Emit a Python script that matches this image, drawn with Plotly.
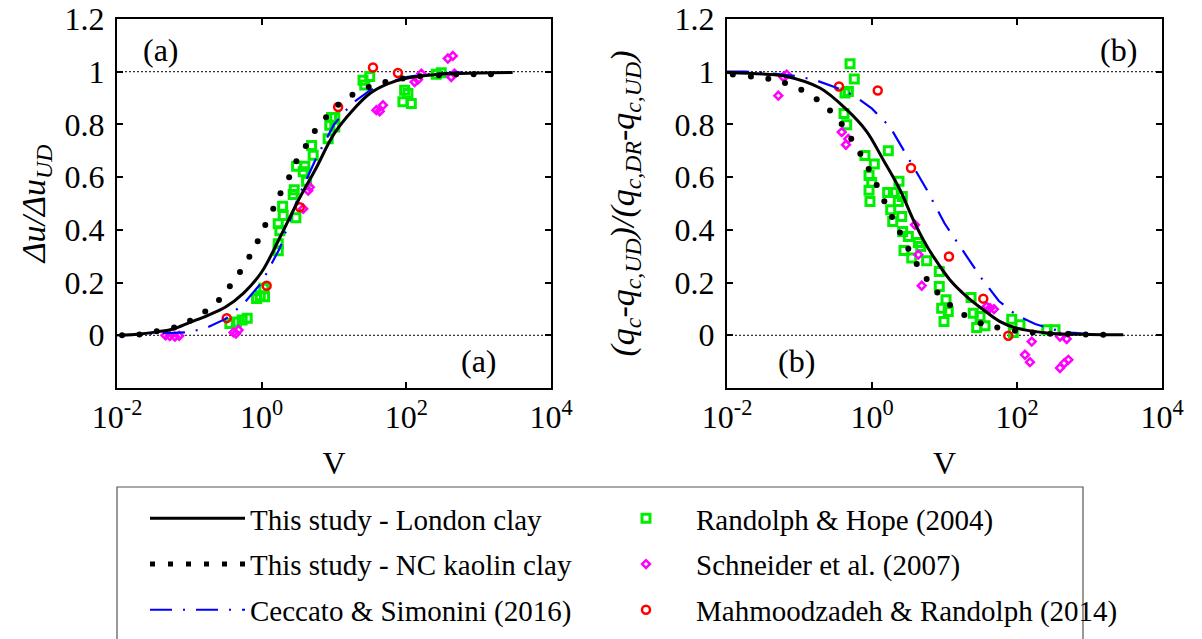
import numpy as np
import plotly.graph_objects as go

# ---------------------------------------------------------------------------
# Values.  x values are stored as log10(V)
# (read on the logarithmic V axis), y values as plotted.
# ---------------------------------------------------------------------------

# ---------- panel (a): Δu/Δu_UD -------------------------------------------
a_london_logV = [-1.95, -1.68, -1.45, -1.22, -1.0, -0.75, -0.5, -0.25, 0.0, 0.25,
                 0.5, 0.75, 1.0, 1.25, 1.5, 1.75, 2.0, 2.5, 3.0, 3.47]
a_london_y = [0.0, 0.005, 0.013, 0.024, 0.048, 0.075, 0.107, 0.16, 0.24, 0.37,
              0.508, 0.633, 0.764, 0.851, 0.918, 0.955, 0.975, 0.991, 0.995, 0.997]

a_kaolin_logV = [-1.93, -1.69, -1.45, -1.21, -0.99, -0.78, -0.59, -0.44, -0.30, -0.17,
                 -0.055, 0.05, 0.16, 0.26, 0.38, 0.48, 0.61, 0.735, 0.89, 1.06,
                 1.255, 1.48, 1.71, 1.95, 2.19, 2.45, 2.69, 2.93, 3.17]
a_kaolin_y = [0.0, 0.003, 0.015, 0.03, 0.055, 0.09, 0.134, 0.186, 0.24, 0.298,
              0.357, 0.418, 0.48, 0.539, 0.60, 0.66, 0.718, 0.775, 0.827, 0.875,
              0.913, 0.942, 0.961, 0.974, 0.983, 0.987, 0.99, 0.99, 0.99]

a_ceccato_logV = [-2.0, -1.5, -1.0, -0.75, -0.5, -0.25, 0.0, 0.25, 0.5, 0.75,
                  1.0, 1.25, 1.5, 1.75, 2.0, 2.25, 2.5, 2.75, 3.0]
a_ceccato_y = [0.0, 0.005, 0.012, 0.03, 0.062, 0.12, 0.2, 0.33, 0.52, 0.67,
               0.8, 0.88, 0.93, 0.96, 0.98, 0.99, 0.995, 0.998, 0.999]

a_randolph_logV = [-0.44, -0.35, -0.27, -0.2, -0.07, -0.02, 0.04, 0.03, 0.229, 0.229,
                   0.252, 0.229, 0.298, 0.29, 0.473, 0.436, 0.45, 0.483, 0.597, 0.574,
                   0.621, 0.712, 0.69, 0.919, 0.942, 1.011, 0.966, 1.011, 1.401, 1.425,
                   1.494, 1.977, 2.022, 1.953, 2.069, 2.414, 2.483]
a_randolph_y = [0.045, 0.05, 0.058, 0.065, 0.14, 0.15, 0.146, 0.178, 0.321, 0.347,
                0.397, 0.423, 0.454, 0.49, 0.446, 0.534, 0.552, 0.641, 0.641, 0.62,
                0.584, 0.683, 0.72, 0.746, 0.797, 0.826, 0.826, 0.79, 0.968, 0.95,
                0.982, 0.93, 0.917, 0.886, 0.879, 0.99, 0.996]

a_schneider_logV = [-1.33, -1.27, -1.2, -1.14, -0.39, -0.355, -0.32, 0.574, 0.643, 0.666,
                    1.586, 1.632, 1.677, 2.115, 2.16, 2.207, 2.574, 2.643, 2.621, 2.666]
a_schneider_y = [0.0, -0.003, -0.005, -0.002, 0.011, 0.006, 0.02, 0.48, 0.549, 0.562,
                 0.854, 0.85, 0.873, 0.961, 0.97, 0.993, 1.05, 1.06, 0.98, 0.993]

a_mahmood_logV = [-0.483, 0.069, 0.528, 1.057, 1.539, 1.884]
a_mahmood_y = [0.065, 0.188, 0.486, 0.866, 1.016, 0.995]

# ---------- panel (b): (qc-qc,UD)/(qc,DR-qc,UD) ----------------------------
b_london_logV = [-2.0, -1.5, -1.177, -0.717, -0.349, -0.073, 0.156, 0.386, 0.57, 0.708,
                 0.846, 1.076, 1.306, 1.535, 1.766, 1.996, 2.455, 3.0, 3.466]
b_london_y = [0.997, 0.991, 0.982, 0.938, 0.856, 0.773, 0.665, 0.552, 0.438, 0.362,
              0.299, 0.21, 0.147, 0.097, 0.052, 0.027, 0.008, 0.003, 0.002]

b_kaolin_logV = [-1.92, -1.67, -1.43, -1.20, -0.975, -0.763, -0.579, -0.418, -0.286, -0.161,
                 -0.046, 0.065, 0.17, 0.276, 0.386, 0.501, 0.617, 0.754, 0.901, 1.076,
                 1.273, 1.499, 1.728, 1.972, 2.217, 2.459, 2.703, 2.948, 3.19]
b_kaolin_y = [0.989, 0.982, 0.973, 0.957, 0.932, 0.896, 0.853, 0.802, 0.746, 0.689,
              0.631, 0.57, 0.509, 0.449, 0.39, 0.328, 0.27, 0.214, 0.162, 0.115,
              0.077, 0.046, 0.03, 0.017, 0.011, 0.006, 0.005, 0.003, 0.002]

b_ceccato_logV = [-2.0, -1.75, -1.5, -1.25, -1.0, -0.75, -0.5, -0.25, 0.0, 0.25,
                  0.5, 0.75, 1.0, 1.25, 1.5, 1.75, 2.0, 2.25, 2.5, 2.75, 3.0]
b_ceccato_y = [1.0, 1.0, 0.997, 0.99, 0.982, 0.965, 0.94, 0.91, 0.86, 0.79,
               0.67, 0.555, 0.425, 0.32, 0.22, 0.13, 0.075, 0.043, 0.022, 0.01, 0.004]

b_randolph_logV = [-0.303, -0.244, -0.372, -0.326, -0.386, -0.349, -0.097, 0.032, -0.041, -0.004,
                   -0.041, -0.028, 0.225, 0.372, 0.216, 0.294, 0.418, 0.363, 0.258, 0.286,
                   0.41, 0.423, 0.501, 0.639, 0.672, 0.441, 0.548, 0.754, 0.928, 0.928,
                   1.021, 0.961, 1.052, 0.993, 1.366, 1.397, 1.49, 1.444, 1.559, 1.927,
                   2.041, 1.949, 2.41, 2.524]
b_randolph_y = [1.03, 0.972, 0.919, 0.925, 0.841, 0.799, 0.682, 0.65, 0.606, 0.58,
                0.55, 0.508, 0.7, 0.584, 0.542, 0.542, 0.527, 0.508, 0.476, 0.432,
                0.451, 0.394, 0.375, 0.352, 0.337, 0.322, 0.293, 0.283, 0.242, 0.185,
                0.135, 0.103, 0.09, 0.052, 0.143, 0.084, 0.071, 0.03, 0.036, 0.061,
                0.04, 0.011, 0.021, 0.021]

b_schneider_logV = [-1.177, -1.223, -1.292, -0.418, -0.327, -0.359, 0.593, 0.639, 0.686, 1.582,
                    1.628, 1.683, 2.203, 2.11, 2.179, 2.593, 2.686, 2.593, 2.652, 2.708]
b_schneider_y = [0.989, 0.98, 0.909, 0.771, 0.745, 0.723, 0.419, 0.306, 0.188, 0.109,
                 0.103, 0.099, -0.024, -0.074, -0.102, -0.005, -0.014, -0.124, -0.106, -0.093]

b_mahmood_logV = [-0.455, 0.079, 0.538, 1.062, 1.535, 1.88]
b_mahmood_y = [0.944, 0.929, 0.635, 0.299, 0.139, -0.002]

# ---------- axes / labels ----------------------------------------------------
x_tickvals = [0.01, 1, 100, 10000]
x_ticktext = ["10<sup>-2</sup>", "10<sup>0</sup>", "10<sup>2</sup>", "10<sup>4</sup>"]
y_tickvals = [0, 0.2, 0.4, 0.6, 0.8, 1.0, 1.2]
y_ticktext = ["0", "0.2", "0.4", "0.6", "0.8", "1", "1.2"]
reference_levels = [0, 1]

names = {
    "london": "This study - London clay",
    "kaolin": "This study - NC kaolin clay",
    "ceccato": "Ceccato & Simonini (2016)",
    "randolph": "Randolph & Hope (2004)",
    "schneider": "Schneider et al. (2007)",
    "mahmood": "Mahmoodzadeh & Randolph (2014)",
}

FONT = "Liberation Serif"
GREEN, MAGENTA, RED, BLUE = "#00ee00", "#ff00ff", "#ff0000", "#0000ff"


def V(logv):
    return np.power(10.0, np.array(logv, dtype=float))


panels = [
    dict(xa="x", ya="y", first=True,
         london=(a_london_logV, a_london_y), kaolin=(a_kaolin_logV, a_kaolin_y),
         ceccato=(a_ceccato_logV, a_ceccato_y), randolph=(a_randolph_logV, a_randolph_y),
         schneider=(a_schneider_logV, a_schneider_y), mahmood=(a_mahmood_logV, a_mahmood_y)),
    dict(xa="x2", ya="y2", first=False,
         london=(b_london_logV, b_london_y), kaolin=(b_kaolin_logV, b_kaolin_y),
         ceccato=(b_ceccato_logV, b_ceccato_y), randolph=(b_randolph_logV, b_randolph_y),
         schneider=(b_schneider_logV, b_schneider_y), mahmood=(b_mahmood_logV, b_mahmood_y)),
]

fig = go.Figure()

for p in panels:
    show = p["first"]
    common = dict(xaxis=p["xa"], yaxis=p["ya"])
    fig.add_trace(go.Scatter(x=V(p["randolph"][0]), y=p["randolph"][1], mode="markers",
                             name=names["randolph"], legendgroup="randolph", legend="legend2",
                             showlegend=show, legendrank=1,
                             marker=dict(symbol="square-open", size=8, color=GREEN,
                                         line=dict(width=3, color=GREEN)), **common))
    fig.add_trace(go.Scatter(x=V(p["schneider"][0]), y=p["schneider"][1], mode="markers",
                             name=names["schneider"], legendgroup="schneider", legend="legend2",
                             showlegend=show, legendrank=2,
                             marker=dict(symbol="diamond-open", size=6, color=MAGENTA,
                                         line=dict(width=2.5, color=MAGENTA)), **common))
    fig.add_trace(go.Scatter(x=V(p["mahmood"][0]), y=p["mahmood"][1], mode="markers",
                             name=names["mahmood"], legendgroup="mahmood", legend="legend2",
                             showlegend=show, legendrank=3,
                             marker=dict(symbol="circle-open", size=8, color=RED,
                                         line=dict(width=2.5, color=RED)), **common))
    fig.add_trace(go.Scatter(x=V(p["ceccato"][0]), y=p["ceccato"][1], mode="lines",
                             name=names["ceccato"], legendgroup="ceccato", legend="legend",
                             showlegend=show, legendrank=3,
                             line=dict(color=BLUE, width=2.2, dash="22px,11px,2px,11px"),
                             **common))
    fig.add_trace(go.Scatter(x=V(p["kaolin"][0]), y=p["kaolin"][1], mode="markers",
                             name=names["kaolin"], legendgroup="kaolin", legend="legend",
                             showlegend=False,
                             marker=dict(symbol="circle", size=6, color="black"), **common))
    fig.add_trace(go.Scatter(x=V(p["london"][0]), y=p["london"][1], mode="lines",
                             name=names["london"], legendgroup="london", legend="legend",
                             showlegend=show, legendrank=1, line_shape="spline",
                             line=dict(color="black", width=3), **common))

# legend entry for the dotted (kaolin) series
fig.add_trace(go.Scatter(x=[None], y=[None], mode="lines", name=names["kaolin"],
                         legendgroup="kaolin", legend="legend", legendrank=2,
                         line=dict(color="black", width=5, dash="5px,13px"),
                         xaxis="x", yaxis="y"))

axis_common = dict(showline=True, linewidth=2, linecolor="black", mirror="ticks",
                   ticks="inside", ticklen=6, tickwidth=1.5, tickcolor="black",
                   showgrid=False, zeroline=False,
                   tickfont=dict(family=FONT, size=32, color="black"))

xcommon = dict(axis_common, type="log", range=[-2, 4], tickvals=x_tickvals,
               ticktext=x_ticktext,
               title=dict(text="V", font=dict(family=FONT, size=32, color="black"), standoff=17))
ycommon = dict(axis_common, range=[-0.2, 1.2], tickvals=y_tickvals, ticktext=y_ticktext,
               ticklabelstandoff=4)

W, H = 1202, 639
ML, MR, MT, MB = 117, 40, 19, 251
PW, PH = W - ML - MR, H - MT - MB


def px_x(px):
    return (px - ML) / PW


def px_y(py):
    return (H - MB - py) / PH


TITLE_FONT = dict(family=FONT, size=34, color="black")

fig.update_layout(
    width=W, height=H,
    margin=dict(l=ML, r=MR, t=MT, b=MB, autoexpand=False),
    paper_bgcolor="white", plot_bgcolor="white",
    font=dict(family=FONT, color="black"),
    xaxis=dict(xcommon, domain=[0, px_x(551)], anchor="y"),
    yaxis=dict(ycommon, domain=[0, 1], anchor="x",
               title=dict(text="<i>Δu/Δu</i><sub><i>UD</i></sub>",
                          font=TITLE_FONT, standoff=9)),
    xaxis2=dict(xcommon, domain=[px_x(727), 1], anchor="y2"),
    yaxis2=dict(ycommon, domain=[0, 1], anchor="x2",
                title=dict(text="<i>(q</i><sub><i>c</i></sub><i>-q</i><sub><i>c,UD</i></sub><i>)/(q</i>"
                                "<sub><i>c,DR</i></sub><i>-q</i><sub><i>c,UD</i></sub><i>)</i>",
                           font=TITLE_FONT, standoff=30)),
    legend=dict(x=px_x(145), y=px_y(493), xanchor="left", yanchor="top",
                orientation="v", itemwidth=95, tracegroupgap=5, traceorder="grouped",
                bgcolor="rgba(0,0,0,0)", borderwidth=0,
                font=dict(family=FONT, size=29, color="black")),
    legend2=dict(x=px_x(596), y=px_y(493), xanchor="left", yanchor="top",
                 orientation="v", itemwidth=90, tracegroupgap=5, traceorder="grouped",
                 bgcolor="rgba(0,0,0,0)", borderwidth=0,
                 font=dict(family=FONT, size=29, color="black")),
)

shapes = []
for xa, ya in [("x", "y"), ("x2", "y2")]:
    for lvl in reference_levels:
        shapes.append(dict(type="line", xref=f"{xa} domain", yref=ya, x0=0, x1=1, y0=lvl, y1=lvl,
                           line=dict(color="black", width=1, dash="2px,2px"), layer="below"))
# legend frame
shapes.append(dict(type="rect", xref="paper", yref="paper", x0=px_x(117), x1=px_x(1083),
                   y0=px_y(660), y1=px_y(487), line=dict(color="#555555", width=1.2),
                   fillcolor="rgba(0,0,0,0)", layer="below"))
fig.update_layout(shapes=shapes)

ann_font = dict(family=FONT, size=32, color="black")
ann_common = dict(showarrow=False, font=ann_font, xanchor="center", yanchor="middle")
annotations = [
    dict(text="(a)", xref="x domain", yref="y domain", x=0.101, y=0.916, **ann_common),
    dict(text="(a)", xref="x domain", yref="y domain", x=0.833, y=0.0745, **ann_common),
    dict(text="(b)", xref="x2 domain", yref="y2 domain", x=0.899, y=0.916, **ann_common),
    dict(text="(b)", xref="x2 domain", yref="y2 domain", x=0.159, y=0.0745, **ann_common),
]
fig.update_layout(annotations=annotations)

fig.write_html("out.html")
